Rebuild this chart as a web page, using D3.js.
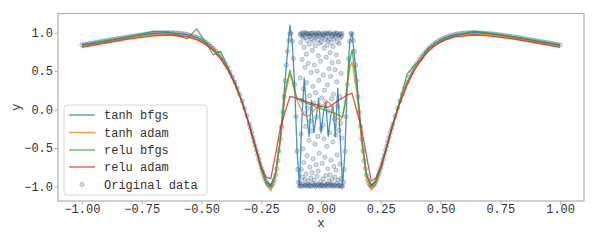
<!DOCTYPE html>
<html>
<head>
<meta charset="utf-8">
<script src="https://cdn.jsdelivr.net/npm/d3@7"></script>
<style>
  body { margin: 0; background: #fff; }
  svg text { font-family: "Courier New", "Nimbus Mono PS", "FreeMono", "Liberation Mono", monospace; fill: #333; }
</style>
</head>
<body>
<div id="chart"></div>
<script>
// grid where the four fitted models were evaluated
const xGrid = [-1.00,-0.90,-0.80,-0.70,-0.64,-0.56,-0.52,-0.48,-0.45,-0.42,-0.39,-0.36,-0.33,-0.30,-0.27,-0.25,-0.23,-0.21,-0.19,-0.17,-0.15,-0.13,
  -0.12,-0.11,-0.10,-0.09,-0.08,-0.07,-0.06,-0.05,-0.04,-0.03,-0.02,-0.01,0.00,0.01,0.02,0.03,0.04,0.05,0.06,0.07,0.08,0.09,0.10,0.11,0.12,
  0.13,0.15,0.17,0.19,0.21,0.23,0.25,0.27,0.30,0.33,0.36,0.39,0.42,0.45,0.48,0.52,0.56,0.64,0.70,0.80,0.90,1.00];

const tanhBfgs = [0.84,0.895,0.948,0.99,1.0,0.976,0.937,0.871,0.794,0.689,0.545,0.355,0.11,-0.19,-0.53,-0.757,-0.934,-0.985,-0.84,-0.38,0.39,1.10,
  0.86,0.30,-0.55,-1.0,-0.12,0.41,-0.05,-0.35,0.12,-0.30,-0.10,0.15,-0.30,-0.05,0.10,-0.35,-0.10,0.05,-0.35,0.28,-0.35,-1.0,-0.55,0.32,0.88,
  1.0,0.38,-0.39,-0.85,-0.99,-0.93,-0.757,-0.53,-0.19,0.11,0.355,0.545,0.689,0.794,0.871,0.937,0.976,1.0,0.99,0.948,0.895,0.84];

const tanhAdam = [0.826,0.881,0.934,0.975,0.985,0.962,0.922,0.856,0.78,0.675,0.53,0.34,0.095,-0.205,-0.545,-0.775,-0.96,-1.06,-0.87,-0.42,0.18,0.46,
  0.36,0.22,0.12,0.05,-0.02,-0.07,-0.09,-0.08,-0.05,-0.01,0.02,0.04,0.04,0.06,0.09,0.10,0.07,-0.01,-0.09,-0.12,-0.14,-0.10,0.08,0.32,0.54,
  0.62,0.22,-0.42,-0.88,-1.05,-0.955,-0.775,-0.545,-0.205,0.095,0.34,0.53,0.675,0.78,0.856,0.922,0.962,0.985,0.975,0.934,0.881,0.826];

const reluBfgs = [0.835,0.89,0.945,1.02,1.01,0.92,1.05,0.86,0.71,0.76,0.55,0.35,0.10,-0.20,-0.54,-0.77,-0.95,-1.0,-0.84,-0.38,0.25,0.51,
  0.40,0.26,0.14,0.13,0.11,0.10,0.08,0.07,0.06,0.05,0.03,0.02,0.01,0.0,-0.01,-0.02,-0.03,-0.04,-0.05,-0.07,-0.08,-0.10,0.06,0.32,0.62,
  0.78,0.30,-0.36,-0.84,-0.99,-0.94,-0.77,-0.54,-0.20,0.12,0.46,0.58,0.64,0.80,0.84,0.92,0.96,1.02,0.995,0.945,0.89,0.835];

const reluAdam = [0.81,0.866,0.92,0.96,0.97,0.947,0.908,0.842,0.765,0.66,0.52,0.33,0.09,-0.20,-0.53,-0.74,-0.88,-0.90,-0.58,-0.24,-0.03,0.17,
  0.165,0.155,0.145,0.135,0.125,0.115,0.10,0.09,0.08,0.07,0.06,0.05,0.04,0.035,0.03,0.03,0.05,0.07,0.09,0.11,0.13,0.15,0.17,0.19,0.20,
  0.21,-0.02,-0.25,-0.60,-0.93,-0.89,-0.745,-0.54,-0.21,0.08,0.32,0.51,0.65,0.76,0.84,0.905,0.945,0.97,0.96,0.92,0.866,0.81];

// original samples along the curve, |x| > 0.09
const origOuterLeft = [
  [-1.00,0.841],[-0.99,0.847],[-0.98,0.852],[-0.97,0.858],[-0.96,0.864],[-0.95,0.869],[-0.94,0.874],[-0.93,0.880],[-0.92,0.885],[-0.91,0.891],
  [-0.90,0.896],[-0.89,0.902],[-0.88,0.907],[-0.87,0.913],[-0.86,0.918],[-0.85,0.923],[-0.84,0.929],[-0.83,0.934],[-0.82,0.939],[-0.81,0.944],
  [-0.80,0.949],[-0.79,0.954],[-0.78,0.959],[-0.77,0.963],[-0.76,0.968],[-0.75,0.972],[-0.74,0.976],[-0.73,0.980],[-0.72,0.984],[-0.71,0.987],
  [-0.70,0.990],[-0.69,0.993],[-0.68,0.995],[-0.67,0.997],[-0.66,0.998],[-0.65,1.000],[-0.64,1.000],[-0.63,1.000],[-0.62,0.999],[-0.61,0.998],
  [-0.60,0.995],[-0.59,0.992],[-0.58,0.988],[-0.57,0.983],[-0.56,0.977],[-0.55,0.969],[-0.54,0.961],[-0.53,0.950],[-0.52,0.938],[-0.51,0.925],
  [-0.50,0.909],[-0.49,0.892],[-0.48,0.872],[-0.47,0.849],[-0.46,0.824],[-0.45,0.795],[-0.44,0.763],[-0.43,0.728],[-0.42,0.690],[-0.41,0.646],
  [-0.40,0.598],[-0.39,0.546],[-0.38,0.488],[-0.37,0.425],[-0.36,0.356],[-0.35,0.281],[-0.34,0.200],[-0.33,0.111],[-0.32,0.017],[-0.31,-0.084],
  [-0.30,-0.190],[-0.295,-0.246],[-0.29,-0.300],[-0.285,-0.359],[-0.28,-0.415],[-0.275,-0.475],[-0.27,-0.530],[-0.265,-0.590],[-0.26,-0.647],
  [-0.255,-0.704],[-0.25,-0.757],[-0.245,-0.809],[-0.24,-0.856],[-0.235,-0.897],[-0.23,-0.934],[-0.225,-0.964],[-0.22,-0.986],[-0.215,-0.998],
  [-0.21,-0.999],[-0.205,-0.986],[-0.20,-0.959],[-0.195,-0.916],[-0.19,-0.853],[-0.185,-0.771],[-0.18,-0.669],[-0.175,-0.540],[-0.17,-0.388],
  [-0.165,-0.220],[-0.16,-0.033],[-0.155,0.168],[-0.15,0.374],[-0.145,0.575],[-0.14,0.756],[-0.135,0.901],[-0.13,0.986],[-0.125,0.989],
  [-0.12,0.888],[-0.115,0.664],[-0.11,0.327],[-0.105,-0.092],[-0.10,-0.544],[-0.097,-0.779],[-0.094,-0.945],[-0.091,-1.0]
];
const origOuterRight = [
  [1.00,0.841],[0.99,0.847],[0.98,0.852],[0.97,0.858],[0.96,0.864],[0.95,0.869],[0.94,0.874],[0.93,0.880],[0.92,0.885],[0.91,0.891],
  [0.90,0.896],[0.89,0.902],[0.88,0.907],[0.87,0.913],[0.86,0.918],[0.85,0.923],[0.84,0.929],[0.83,0.934],[0.82,0.939],[0.81,0.944],
  [0.80,0.949],[0.79,0.954],[0.78,0.959],[0.77,0.963],[0.76,0.968],[0.75,0.972],[0.74,0.976],[0.73,0.980],[0.72,0.984],[0.71,0.987],
  [0.70,0.990],[0.69,0.993],[0.68,0.995],[0.67,0.997],[0.66,0.998],[0.65,1.000],[0.64,1.000],[0.63,1.000],[0.62,0.999],[0.61,0.998],
  [0.60,0.995],[0.59,0.992],[0.58,0.988],[0.57,0.983],[0.56,0.977],[0.55,0.969],[0.54,0.961],[0.53,0.950],[0.52,0.938],[0.51,0.925],
  [0.50,0.909],[0.49,0.892],[0.48,0.872],[0.47,0.849],[0.46,0.824],[0.45,0.795],[0.44,0.763],[0.43,0.728],[0.42,0.690],[0.41,0.646],
  [0.40,0.598],[0.39,0.546],[0.38,0.488],[0.37,0.425],[0.36,0.356],[0.35,0.281],[0.34,0.200],[0.33,0.111],[0.32,0.017],[0.31,-0.084],
  [0.30,-0.190],[0.295,-0.246],[0.29,-0.300],[0.285,-0.359],[0.28,-0.415],[0.275,-0.475],[0.27,-0.530],[0.265,-0.590],[0.26,-0.647],
  [0.255,-0.704],[0.25,-0.757],[0.245,-0.809],[0.24,-0.856],[0.235,-0.897],[0.23,-0.934],[0.225,-0.964],[0.22,-0.986],[0.215,-0.998],
  [0.21,-0.999],[0.205,-0.986],[0.20,-0.959],[0.195,-0.916],[0.19,-0.853],[0.185,-0.771],[0.18,-0.669],[0.175,-0.540],[0.17,-0.388],
  [0.165,-0.220],[0.16,-0.033],[0.155,0.168],[0.15,0.374],[0.145,0.575],[0.14,0.756],[0.135,0.901],[0.13,0.986],[0.125,0.989],
  [0.12,0.888],[0.115,0.664],[0.11,0.327],[0.105,-0.092],[0.10,-0.544],[0.097,-0.779],[0.094,-0.945],[0.091,-1.0]
];

// original samples in the fast-oscillating middle
const cloudX = [
  -0.0880,-0.0872,-0.0863,-0.0855,-0.0846,-0.0838,-0.0829,-0.0821,-0.0812,-0.0804,
  -0.0795,-0.0787,-0.0778,-0.0770,-0.0761,-0.0753,-0.0744,-0.0736,-0.0727,-0.0719,
  -0.0710,-0.0702,-0.0693,-0.0685,-0.0676,-0.0668,-0.0659,-0.0651,-0.0642,-0.0634,
  -0.0625,-0.0617,-0.0608,-0.0600,-0.0591,-0.0583,-0.0574,-0.0566,-0.0557,-0.0549,
  -0.0540,-0.0532,-0.0523,-0.0515,-0.0506,-0.0498,-0.0489,-0.0481,-0.0472,-0.0464,
  -0.0455,-0.0447,-0.0438,-0.0430,-0.0421,-0.0413,-0.0404,-0.0396,-0.0387,-0.0379,
  -0.0370,-0.0362,-0.0353,-0.0345,-0.0336,-0.0328,-0.0319,-0.0311,-0.0302,-0.0294,
  -0.0285,-0.0277,-0.0268,-0.0260,-0.0251,-0.0243,-0.0234,-0.0226,-0.0217,-0.0209,
  -0.0200,-0.0192,-0.0183,-0.0175,-0.0166,-0.0158,-0.0149,-0.0141,-0.0132,-0.0124,
  -0.0115,-0.0107,-0.0098,-0.0090,-0.0081,-0.0073,-0.0064,-0.0056,-0.0047,-0.0039,
  -0.0030,-0.0022,-0.0013,-0.0005,0.0004,0.0012,0.0021,0.0029,0.0038,0.0046,
  0.0055,0.0063,0.0072,0.0080,0.0089,0.0097,0.0106,0.0114,0.0123,0.0131,
  0.0140,0.0148,0.0157,0.0165,0.0174,0.0182,0.0191,0.0199,0.0208,0.0216,
  0.0225,0.0233,0.0242,0.0250,0.0259,0.0267,0.0276,0.0284,0.0293,0.0301,
  0.0310,0.0318,0.0327,0.0335,0.0344,0.0352,0.0361,0.0369,0.0378,0.0386,
  0.0395,0.0403,0.0412,0.0420,0.0429,0.0437,0.0446,0.0454,0.0463,0.0471,
  0.0480,0.0488,0.0497,0.0505,0.0514,0.0522,0.0531,0.0539,0.0548,0.0556,
  0.0565,0.0573,0.0582,0.0590,0.0599,0.0607,0.0616,0.0624,0.0633,0.0641,
  0.0650,0.0658,0.0667,0.0675,0.0684,0.0692,0.0701,0.0709,0.0718,0.0726,
  0.0735,0.0743,0.0752,0.0760,0.0769,0.0777,0.0786,0.0794,0.0803,0.0811,
  0.0820,0.0828,0.0837,0.0845,0.0854,0.0862,0.0871,0.0879
];
const cloudY = [
  0.98,-0.95,0.41,-0.99,0.87,-0.32,0.99,-0.78,0.12,0.96,
  -1.00,0.65,-0.88,0.99,-0.51,0.93,-0.97,0.27,1.00,-0.69,
  0.81,-0.99,-0.05,0.97,-0.91,0.55,-0.99,0.94,-0.22,1.00,
  -0.84,0.72,-0.98,0.35,0.99,-0.60,0.90,-1.00,0.02,0.98,
  -0.93,0.60,-0.97,0.99,-0.40,0.85,-0.99,0.18,0.96,-0.75,
  0.95,-0.99,-0.15,0.99,-0.89,0.48,-1.00,0.92,-0.28,0.99,
  -0.82,0.77,-0.96,0.30,1.00,-0.64,0.89,-0.99,0.08,0.97,
  -0.92,0.58,-0.98,0.96,-0.45,0.83,-1.00,0.22,0.99,-0.72,
  0.94,-0.98,-0.10,0.98,-0.87,0.50,-0.99,0.91,-0.35,1.00,
  -0.80,0.70,-0.97,0.38,0.99,-0.57,0.86,-1.00,0.05,0.97,
  -0.94,0.63,-0.99,0.95,-0.25,0.88,-0.98,0.15,0.99,-0.70,
  0.93,-0.99,-0.20,0.98,-0.90,0.45,-1.00,0.97,-0.38,0.80,
  -0.96,0.25,1.00,-0.62,0.91,-0.99,0.10,0.96,-0.86,0.68,
  -0.98,0.99,-0.48,0.84,-1.00,0.32,0.98,-0.77,0.90,-0.97,
  -0.02,0.99,-0.93,0.53,-0.99,0.92,-0.30,1.00,-0.85,0.74,
  -0.97,0.43,0.98,-0.66,0.87,-0.99,0.14,0.95,-0.91,0.61,
  -0.98,0.97,-0.42,0.82,-1.00,0.20,0.99,-0.74,0.92,-0.98,
  -0.12,0.98,-0.88,0.52,-0.99,0.94,-0.33,1.00,-0.79,0.71,
  -0.96,0.36,0.99,-0.59,0.88,-1.00,0.04,0.97,-0.92,0.62,
  -0.99,0.96,-0.27,0.86,-0.98,0.17,0.99,-0.71,0.93,-0.99,
  -0.18,0.98,-0.90,0.47,-1.00,0.95,-0.37,0.99
];

const xTicks = [-1.00, -0.75, -0.50, -0.25, 0.00, 0.25, 0.50, 0.75, 1.00];
const yTicks = [-1.0, -0.5, 0.0, 0.5, 1.0];

const seriesNames = ['tanh bfgs', 'tanh adam', 'relu bfgs', 'relu adam'];
const seriesColors = ['#1f77b4', '#ff7f0e', '#2ca02c', '#d62728'];
const seriesValues = [tanhBfgs, tanhAdam, reluBfgs, reluAdam];

const width = 598, height = 240;
const plot = {left: 58, right: 584, top: 13.5, bottom: 201};

const svg = d3.select('#chart').append('svg')
    .attr('width', width)
    .attr('height', height);

const x = d3.scaleLinear().domain([-1.1, 1.1]).range([plot.left, plot.right]);
const y = d3.scaleLinear().domain([-1.19, 1.25]).range([plot.bottom, plot.top]);

// real minus sign, like matplotlib
const minus = s => s.replace('-', '\u2212');

// original data first, lines go on top
const pts = origOuterLeft.concat(origOuterRight, cloudX.map((v, i) => [v, cloudY[i]]));
svg.append('g').selectAll('circle')
    .data(pts)
    .enter()
    .append('circle')
    .attr('cx', d => x(d[0]))
    .attr('cy', d => y(d[1]))
    .attr('r', 2.1)
    .attr('fill', '#3a6a96')
    .attr('fill-opacity', 0.22)
    .attr('stroke', '#1d3c5c')
    .attr('stroke-opacity', 0.45)
    .attr('stroke-width', 0.6);

// model lines
const line = d3.line()
    .x((d, i) => x(xGrid[i]))
    .y(d => y(d));

seriesValues.forEach((vals, k) => {
    svg.append('path')
        .datum(vals)
        .attr('d', line)
        .attr('fill', 'none')
        .attr('stroke', seriesColors[k])
        .attr('stroke-opacity', 0.8)
        .attr('stroke-width', 1.3)
        .attr('stroke-linejoin', 'round');
});

// frame
svg.append('rect')
    .attr('x', plot.left)
    .attr('y', plot.top)
    .attr('width', plot.right - plot.left)
    .attr('height', plot.bottom - plot.top)
    .attr('fill', 'none')
    .attr('stroke', '#b0b0b0')
    .attr('stroke-width', 1.2);

// axes
const xAxis = svg.append('g')
    .attr('transform', `translate(0,${plot.bottom})`)
    .call(d3.axisBottom(x).tickValues(xTicks).tickSize(3.5).tickPadding(0)
        .tickFormat(d => minus(d3.format('.2f')(d))));
const yAxis = svg.append('g')
    .attr('transform', `translate(${plot.left},0)`)
    .call(d3.axisLeft(y).tickValues(yTicks).tickSize(3.5).tickPadding(1.5)
        .tickFormat(d => minus(d3.format('.1f')(d))));

[xAxis, yAxis].forEach(a => {
    a.select('.domain').remove();
    a.selectAll('.tick line').attr('stroke', '#b0b0b0').attr('stroke-width', 1);
    a.selectAll('.tick text')
        .style('font-size', '12px')
        .attr('fill', '#333');
});

svg.append('text')
    .attr('x', (plot.left + plot.right) / 2)
    .attr('y', 227)
    .attr('text-anchor', 'middle')
    .style('font-size', '12.5px')
    .text('x');

svg.append('text')
    .attr('transform', `translate(20,${(plot.top + plot.bottom) / 2}) rotate(-90)`)
    .attr('text-anchor', 'middle')
    .style('font-size', '12.5px')
    .text('y');

// legend
const legend = svg.append('g');
legend.append('rect')
    .attr('x', 64)
    .attr('y', 105)
    .attr('width', 143)
    .attr('height', 90)
    .attr('rx', 3)
    .attr('fill', '#fff')
    .attr('fill-opacity', 0.8)
    .attr('stroke', '#d8d8d8')
    .attr('stroke-width', 1);

const rowY = [115, 132.5, 150, 167, 184.5];
seriesNames.forEach((name, k) => {
    legend.append('line')
        .attr('x1', 69).attr('x2', 95)
        .attr('y1', rowY[k]).attr('y2', rowY[k])
        .attr('stroke', seriesColors[k])
        .attr('stroke-opacity', 0.8)
        .attr('stroke-width', 1.3);
    legend.append('text')
        .attr('x', 104)
        .attr('y', rowY[k] + 4)
        .style('font-size', '12px')
        .text(name);
});
legend.append('circle')
    .attr('cx', 82)
    .attr('cy', rowY[4])
    .attr('r', 2.1)
    .attr('fill', '#3a6a96')
    .attr('fill-opacity', 0.22)
    .attr('stroke', '#1d3c5c')
    .attr('stroke-opacity', 0.45)
    .attr('stroke-width', 0.6);
legend.append('text')
    .attr('x', 104)
    .attr('y', rowY[4] + 4)
    .style('font-size', '12px')
    .text('Original data');
</script>
</body>
</html>
